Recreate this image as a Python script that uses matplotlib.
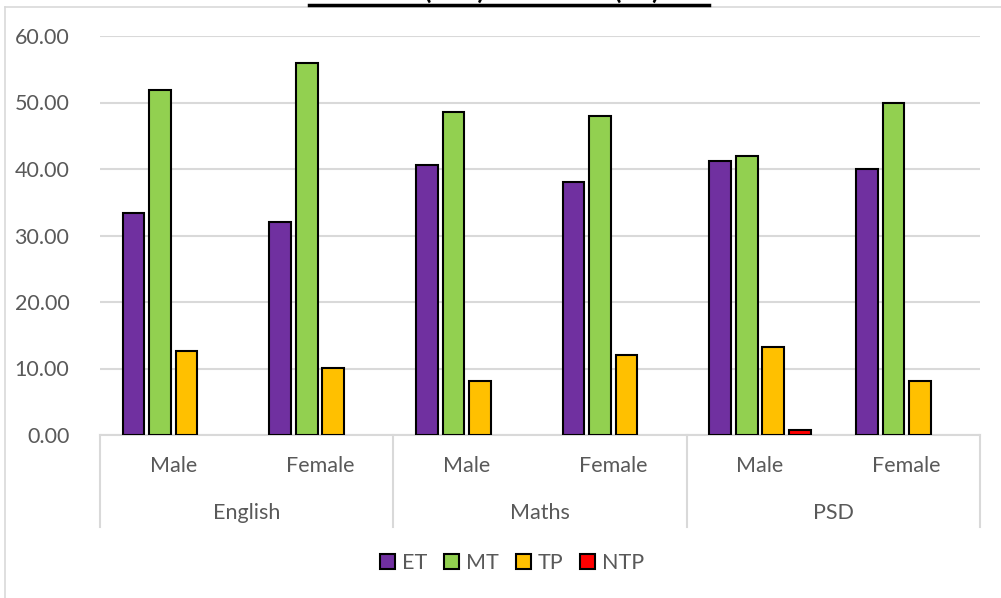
import matplotlib
matplotlib.use("Agg")
import matplotlib.pyplot as plt
from matplotlib.lines import Line2D
from matplotlib.patches import Patch
import numpy as np

title = "Male (482) vs Female (47)"
subjects = ["English", "Maths", "PSD"]
genders = ["Male", "Female", "Male", "Female", "Male", "Female"]
series = ["ET", "MT", "TP", "NTP"]
ET = [33.4, 32.0, 40.6, 38.0, 41.2, 40.0]
MT = [51.9, 55.9, 48.6, 48.0, 41.9, 50.0]
TP = [12.6, 10.1, 8.1, 12.0, 13.3, 8.1]
NTP = [0.0, 0.0, 0.0, 0.0, 0.75, 0.0]
colors = ["#7030A0", "#92D050", "#FFC000", "#FF0000"]
yticks = [0, 10, 20, 30, 40, 50, 60]

plt.rcParams['font.family'] = ['Lato', 'DejaVu Sans']
W, H = 1001, 598
fig = plt.figure(figsize=(W/100, H/100), dpi=100)
fig.patch.set_facecolor('white')

# chart border
grey = "#d9d9d9"
fig.add_artist(Line2D([5/W, 5/W], [0, 1-7/H], color=grey, lw=1.2))
fig.add_artist(Line2D([5/W, 1], [1-7/H, 1-7/H], color=grey, lw=1.2))

ax = fig.add_axes([100/W, 1-435/H, 880/W, 399/H])
x = np.arange(len(genders))
slot = 0.181
bw = 0.148
data = [ET, MT, TP, NTP]
for i, (vals, c) in enumerate(zip(data, colors)):
    xs, vs = [], []
    for xi, v in zip(x, vals):
        if v > 0:
            xs.append(xi + (i - 1.5) * slot)
            vs.append(v)
    ax.bar(xs, vs, width=bw, color=c, edgecolor='black', linewidth=1.5, zorder=3)

fs = 15.5
ax.set_xlim(-0.5, len(genders) - 0.5)
ax.set_ylim(0, 60)
ax.set_yticks(yticks)
ax.set_yticklabels([f"{t:.2f}" for t in yticks], fontsize=fs, color="#595959")
ax.tick_params(axis='y', length=0, pad=22)
ax.tick_params(axis='x', length=0, labelbottom=False)
ax.yaxis.grid(True, color=grey, lw=1.5, zorder=0)
for s in ['top', 'right', 'left']:
    ax.spines[s].set_visible(False)
ax.spines['bottom'].set_color(grey)
ax.spines['bottom'].set_linewidth(1.5)

trans = ax.get_xaxis_transform()
for xi, g in zip(x, genders):
    ax.text(xi, -31/399, g, transform=trans, ha='center', va='center',
            fontsize=fs, color="#595959")
for k, s in enumerate(subjects):
    ax.text(2*k + 0.5, -78/399, s, transform=trans, ha='center', va='center',
            fontsize=fs, color="#595959")
for b in [-0.5, 1.5, 3.5, 5.5]:
    ax.plot([b, b], [0, -92/399], transform=trans, color=grey, lw=1.5, clip_on=False)

handles = [Patch(facecolor=c, edgecolor='black', linewidth=1.5) for c in colors]
leg = fig.legend(handles, series, loc='center', bbox_to_anchor=(512/W, 1-563/H),
                 ncol=4, frameon=False, fontsize=fs, handlelength=0.7, handleheight=0.7,
                 handletextpad=0.3, columnspacing=0.8)
for t in leg.get_texts():
    t.set_color("#595959")

# title (mostly cut off at the top of the image, as in the reference)
fig.text(509/W, 1 + 1/H, title, ha='center', va='baseline', fontsize=19,
         fontweight='bold', color='black')
fig.add_artist(Line2D([309/W, 709/W], [1-5/H, 1-5/H], color='black', lw=2.5))

fig.savefig("out.png", dpi=100)
